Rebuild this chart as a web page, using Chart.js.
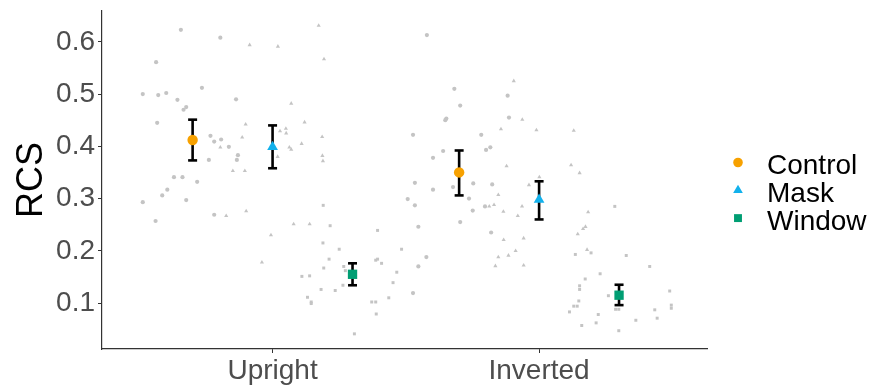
<!DOCTYPE html>
<html>
<head>
<meta charset="utf-8">
<script src="https://cdn.jsdelivr.net/npm/chart.js@4.4.1/dist/chart.umd.min.js"></script>
<style>
  html, body { margin: 0; padding: 0; background: #fff; }
  #wrap { width: 875px; height: 387px; }
</style>
</head>
<body>
<div id="wrap"><canvas id="rcsChart" width="875" height="387"></canvas></div>
<script>
// categories on the x axis and the three conditions
const orientations = ['Upright', 'Inverted'];
const conditions = ['Control', 'Mask', 'Window'];
const yTicks = [0.1, 0.2, 0.3, 0.4, 0.5, 0.6];

// condition means and error bar limits, [Upright, Inverted]
const controlMean = [0.412, 0.350];
const controlLow  = [0.373, 0.306];
const controlHigh = [0.451, 0.392];
const maskMean = [0.399, 0.298];
const maskLow  = [0.358, 0.260];
const maskHigh = [0.440, 0.333];
const windowMean = [0.155, 0.115];
const windowLow  = [0.134, 0.096];
const windowHigh = [0.176, 0.135];

// dodge position of each condition within a category
const dodge = [-0.3, 0, 0.3];

// individual (jittered) observations: x in category units, y = RCS
const upControlX = [0.656, 0.804, 0.563, 0.513, 0.571, 0.601, 0.735, 0.643, 0.863, 0.676, 0.666, 0.567, 0.767, 0.781,
                    0.807, 0.836, 0.870, 0.866, 0.761, 0.630, 0.662, 0.717, 0.605, 0.586, 0.513, 0.676, 0.561, 0.781];
const upControlY = [0.623, 0.608, 0.561, 0.500, 0.498, 0.502, 0.512, 0.489, 0.490, 0.475, 0.470, 0.445, 0.420, 0.409,
                    0.413, 0.399, 0.383, 0.374, 0.374, 0.341, 0.341, 0.332, 0.317, 0.306, 0.293, 0.297, 0.257, 0.269];
const upMaskX = [1.173, 0.914, 1.020, 1.193, 1.070, 0.899, 1.120, 0.886, 1.028, 1.050, 1.051, 1.063, 1.070, 1.109,
                 1.186, 1.019, 1.187, 1.189, 0.851, 0.896, 0.901, 1.079, 1.139, 0.994, 0.960, 0.804, 0.826];
const upMaskY = [0.631, 0.594, 0.591, 0.567, 0.482, 0.442, 0.446, 0.417, 0.429, 0.434, 0.425, 0.398, 0.394, 0.405,
                 0.418, 0.380, 0.382, 0.372, 0.353, 0.353, 0.276, 0.251, 0.251, 0.230, 0.178, 0.398, 0.267];
const upWindowX = [1.190, 1.216, 1.189, 1.250, 1.212, 1.192, 1.267, 1.110, 1.139, 1.182, 1.235, 1.264, 1.131, 1.145,
                   1.145, 1.273, 1.394, 1.484, 1.387, 1.394, 1.409, 1.466, 1.452, 1.436, 1.372, 1.387, 1.389, 1.307];
const upWindowY = [0.287, 0.248, 0.215, 0.203, 0.184, 0.167, 0.170, 0.151, 0.152, 0.126, 0.124, 0.134, 0.111, 0.102,
                   0.099, 0.162, 0.239, 0.203, 0.182, 0.184, 0.176, 0.159, 0.139, 0.110, 0.102, 0.102, 0.079, 0.041];
const invControlX = [1.579, 1.682, 1.704, 1.652, 1.648, 1.527, 1.640, 1.602, 1.534, 1.602, 1.507, 1.534, 1.677, 1.737,
                     1.753, 1.751, 1.704, 1.547, 1.577, 1.547, 1.527, 1.783, 1.801, 1.817, 1.824, 1.797, 1.820, 1.882, 1.887];
const invControlY = [0.613, 0.510, 0.478, 0.453, 0.450, 0.422, 0.391, 0.378, 0.330, 0.317, 0.299, 0.287, 0.322, 0.300,
                     0.329, 0.277, 0.255, 0.246, 0.188, 0.170, 0.119, 0.422, 0.393, 0.398, 0.327, 0.285, 0.235, 0.497, 0.455];
const invMaskX = [1.857, 1.878, 1.847, 1.866, 1.867, 1.847, 1.885, 1.836, 1.905, 1.937, 1.990, 2.130, 2.120, 2.152,
                  2.001, 1.962, 1.936, 1.920, 2.184, 2.174, 2.165, 2.145, 1.942, 1.912, 1.942, 2.180, 1.813, 1.831];
const invMaskY = [0.433, 0.362, 0.307, 0.275, 0.221, 0.188, 0.191, 0.171, 0.525, 0.451, 0.431, 0.430, 0.364, 0.349,
                  0.341, 0.326, 0.285, 0.267, 0.274, 0.246, 0.242, 0.232, 0.224, 0.200, 0.172, 0.202, 0.285, 0.288];
const invWindowX = [2.195, 2.136, 2.229, 2.173, 2.152, 2.152, 2.260, 2.149, 2.130, 2.143, 2.114, 2.222, 2.214, 2.160,
                    2.284, 2.327, 2.415, 2.490, 2.496, 2.496, 2.434, 2.287, 2.299, 2.443, 2.363, 2.299];
const invWindowY = [0.196, 0.193, 0.156, 0.146, 0.133, 0.126, 0.114, 0.104, 0.094, 0.094, 0.083, 0.078, 0.062, 0.057,
                    0.285, 0.191, 0.170, 0.123, 0.096, 0.090, 0.087, 0.088, 0.088, 0.071, 0.067, 0.047];

const colors = ['#F7A100', '#12B1EC', '#009E73'];
const shapes = ['circle', 'triangle', 'rect'];
const meanRadius = [5.2, 6.2, 6.6];
const greyDot = '#c4c4c4';

function pairs(xs, ys) {
    return xs.map((x, i) => ({ x: x, y: ys[i] }));
}

const means = [controlMean, maskMean, windowMean];
const lows = [controlLow, maskLow, windowLow];
const highs = [controlHigh, maskHigh, windowHigh];

// mean points (drawn on top, so they come first)
const meanSets = conditions.map((c, k) => ({
    label: c,
    data: orientations.map((o, i) => ({ x: i + 1 + dodge[k], y: means[k][i] })),
    pointStyle: shapes[k],
    radius: meanRadius[k],
    backgroundColor: colors[k],
    borderColor: colors[k],
    borderWidth: 0,
    showLine: false
}));

// error bars: vertical segment with a cap at both ends, gaps between bars
const barData = [];
conditions.forEach((c, k) => {
    orientations.forEach((o, i) => {
        const x = i + 1 + dodge[k];
        barData.push({ x: x, y: lows[k][i] }, { x: x, y: highs[k][i] }, { x: x, y: null });
    });
});
const errorSet = {
    label: 'error',
    data: barData,
    showLine: true,
    spanGaps: false,
    borderColor: '#000',
    borderWidth: 2.6,
    pointStyle: 'line',
    radius: 4.5,
    pointBorderColor: '#000',
    pointBorderWidth: 2.6
};

const rawGroups = [
    [upControlX, upControlY, 0], [upMaskX, upMaskY, 1], [upWindowX, upWindowY, 2],
    [invControlX, invControlY, 0], [invMaskX, invMaskY, 1], [invWindowX, invWindowY, 2]
];
const rawSets = rawGroups.map(g => ({
    label: 'raw',
    data: pairs(g[0], g[1]),
    pointStyle: shapes[g[2]],
    radius: g[2] === 1 ? 2.4 : 2.1,
    backgroundColor: greyDot,
    borderWidth: 0,
    showLine: false
}));

// legend on the right, drawn with the library's point helper
const legendPlugin = {
    id: 'sideLegend',
    afterDraw(chart) {
        const ctx = chart.ctx;
        ctx.save();
        conditions.forEach((c, k) => {
            const y = 162.5 + k * 27.8;
            ctx.fillStyle = colors[k];
            ctx.strokeStyle = colors[k];
            ctx.lineWidth = 0;
            Chart.helpers.drawPoint(ctx, {
                pointStyle: shapes[k], radius: k === 0 ? 4.8 : 5.6, rotation: 0, borderWidth: 0
            }, 738, y);
            ctx.fillStyle = '#000';
            ctx.font = '28px "Liberation Sans", Arial, sans-serif';
            ctx.textAlign = 'left';
            ctx.textBaseline = 'alphabetic';
            ctx.fillText(c, 767, y + 11.5);
        });
        ctx.restore();
    }
};

new Chart(document.getElementById('rcsChart'), {
    type: 'scatter',
    data: { datasets: meanSets.concat([errorSet]).concat(rawSets) },
    options: {
        responsive: false,
        animation: false,
        layout: { padding: { top: 11, right: 168, bottom: 0, left: 0 } },
        plugins: { legend: { display: false }, tooltip: { enabled: false } },
        scales: {
            x: {
                type: 'linear',
                min: 0.36,
                max: 2.63,
                afterBuildTicks: s => { s.ticks = orientations.map((o, i) => ({ value: i + 1 })); },
                afterFit: s => { s.height = 38; s.paddingLeft = 0; s.paddingRight = 0; },
                ticks: {
                    callback: v => orientations[Math.round(v) - 1],
                    color: '#4d4d4d',
                    font: { family: '"Liberation Sans", Arial, sans-serif', size: 28, lineHeight: 1 },
                    padding: 4,
                    maxRotation: 0,
                    autoSkip: false
                },
                grid: { drawOnChartArea: false, tickLength: 4, color: '#333', tickWidth: 1 },
                border: { display: true, color: '#333', width: 1.2 }
            },
            y: {
                min: 0.012,
                max: 0.659,
                afterBuildTicks: s => { s.ticks = yTicks.map(v => ({ value: v })); },
                afterFit: s => { s.width = 102; s.paddingTop = 0; s.paddingBottom = 0; },
                ticks: {
                    callback: v => v.toFixed(1),
                    color: '#4d4d4d',
                    font: { family: '"Liberation Sans", Arial, sans-serif', size: 28 },
                    padding: 3,
                    autoSkip: false
                },
                grid: { drawOnChartArea: false, tickLength: 4, color: '#333', tickWidth: 1 },
                border: { display: true, color: '#333', width: 1.2 },
                title: {
                    display: true,
                    text: 'RCS',
                    color: '#000',
                    font: { family: '"Liberation Sans", Arial, sans-serif', size: 36 },
                    padding: { top: 10, bottom: 0 }
                }
            }
        }
    },
    plugins: [legendPlugin]
});
</script>
</body>
</html>
